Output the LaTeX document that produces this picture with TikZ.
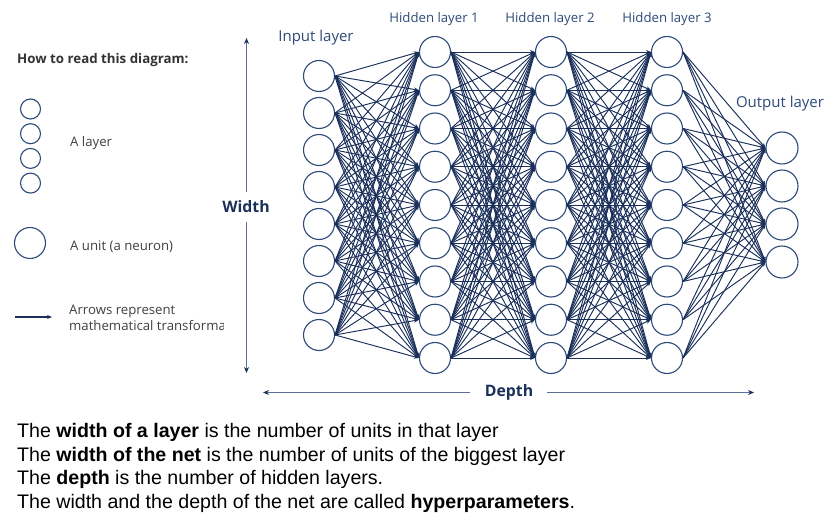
\documentclass[tikz,border=0pt]{standalone}
\usepackage{fontspec}
\setmainfont{Open Sans}
\newfontfamily\arialf{Liberation Sans}
\usetikzlibrary{arrows.meta}
\definecolor{navy}{HTML}{1A2F5A}
\definecolor{unitc}{HTML}{2E4A78}
\definecolor{axisc}{HTML}{5B6F96}
\definecolor{legtxt}{HTML}{404040}
\tikzset{
  unit/.style={circle, draw=unitc, line width=1.1pt, fill=white, minimum size=31pt, inner sep=0pt},
  smallunit/.style={circle, draw=unitc, line width=1.1pt, fill=white, minimum size=20pt, inner sep=0pt},
  edge/.style={draw=navy, line width=0.95pt, -{Stealth[length=5pt,width=4pt]}},
  axis/.style={draw=axisc, line width=1.2pt},
  lbl/.style={text=unitc, font=\fontsize{13.2}{15}\selectfont, inner sep=0pt},
  biglbl/.style={text=unitc, font=\fontsize{15}{17}\selectfont, inner sep=0pt},
  leg/.style={text=legtxt, font=\fontsize{13.2}{16}\selectfont, inner sep=0pt, anchor=west, align=left},
  axlbl/.style={text=navy, font=\fontsize{15.8}{18}\selectfont\bfseries, inner sep=0pt},
  bottomtxt/.style={font=\arialf\fontsize{19.6}{23.7}\selectfont, inner sep=0pt, anchor=north west, align=left}
}
\begin{document}
\begin{tikzpicture}[x=1pt,y=-1pt]
\useasboundingbox (0,0) rectangle (835,529);
% layers
\foreach \i in {1,...,8} \node[unit] (i\i) at (319,{76+37*(\i-1)}) {};
\foreach \i in {1,...,9} {
  \node[unit] (a\i) at (435,{52+38.25*(\i-1)}) {};
  \node[unit] (b\i) at (551,{52+38.25*(\i-1)}) {};
  \node[unit] (c\i) at (667,{52+38.25*(\i-1)}) {};
}
\foreach \i in {1,...,4} \node[unit, minimum size=32pt] (o\i) at (782,{148+38*(\i-1)}) {};
% connections
\foreach \i in {1,...,8} \foreach \j in {1,...,9} \draw[edge] (i\i.east) -- (a\j.west);
\foreach \i in {1,...,9} \foreach \j in {1,...,9} {
  \draw[edge] (a\i.east) -- (b\j.west);
  \draw[edge] (b\i.east) -- (c\j.west);
}
\foreach \i in {1,...,9} \foreach \j in {1,...,4} \draw[edge] (c\i.east) -- (o\j.west);
% layer labels
\node[biglbl] (lin) at (316,38) {Input layer};
\node[lbl] (lh1) at (434,19) {Hidden layer 1};
\node[lbl] (lh2) at (550,19) {Hidden layer 2};
\node[lbl] (lh3) at (667,19) {Hidden layer 3};
\node[biglbl] (lout) at (780,104) {Output layer};
% width and depth
\node[axlbl] (wlbl) at (246,207) {Width};
\coordinate (wtop) at (246.5,38);
\coordinate (wbot) at (246.5,373);
\draw[axis, -{Stealth[length=6pt,width=5pt,color=navy]}] (246.5,192) -- (wtop);
\draw[axis, -{Stealth[length=6pt,width=5pt,color=navy]}] (246.5,222) -- (wbot);
\node[axlbl] (dlbl) at (509,392.5) {Depth};
\coordinate (dleft) at (263,392.5);
\coordinate (dright) at (754,392.5);
\draw[axis, -{Stealth[length=6pt,width=5pt,color=navy]}] (470,392.5) -- (dleft);
\draw[axis, -{Stealth[length=6pt,width=5pt,color=navy]}] (547,392.5) -- (dright);
% legend
\node[text=black!80, font=\fontsize{13.3}{15}\selectfont\bfseries, inner sep=0pt, anchor=west] (how) at (17,60) {How to read this diagram:};
\foreach \i in {1,...,4} \node[smallunit] (l\i) at (30.5,{109+24.7*(\i-1)}) {};
\node[leg] (tlayer) at (70,143) {A layer};
\node[unit] (lu) at (30,243) {};
\node[leg] (tunit) at (70,247) {A unit (a neuron)};
\coordinate (la) at (15,317);
\coordinate (lb) at (52,317);
\draw[edge, line width=1.1pt] (la) -- (lb);
\begin{scope}
\clip (60,295) rectangle (223,340);
\node[leg] (tarrow) at (69,318) {Arrows represent\\mathematical transformations};
\end{scope}
% bottom text
\node[bottomtxt] (bt) at (17,423) {The \textbf{width of a layer} is the number of units in that layer\\
The \textbf{width of the net} is the number of units of the biggest layer\\
The \textbf{depth} is the number of hidden layers.\\
The width and the depth of the net are called \textbf{hyperparameters}.};
\end{tikzpicture}
\end{document}
